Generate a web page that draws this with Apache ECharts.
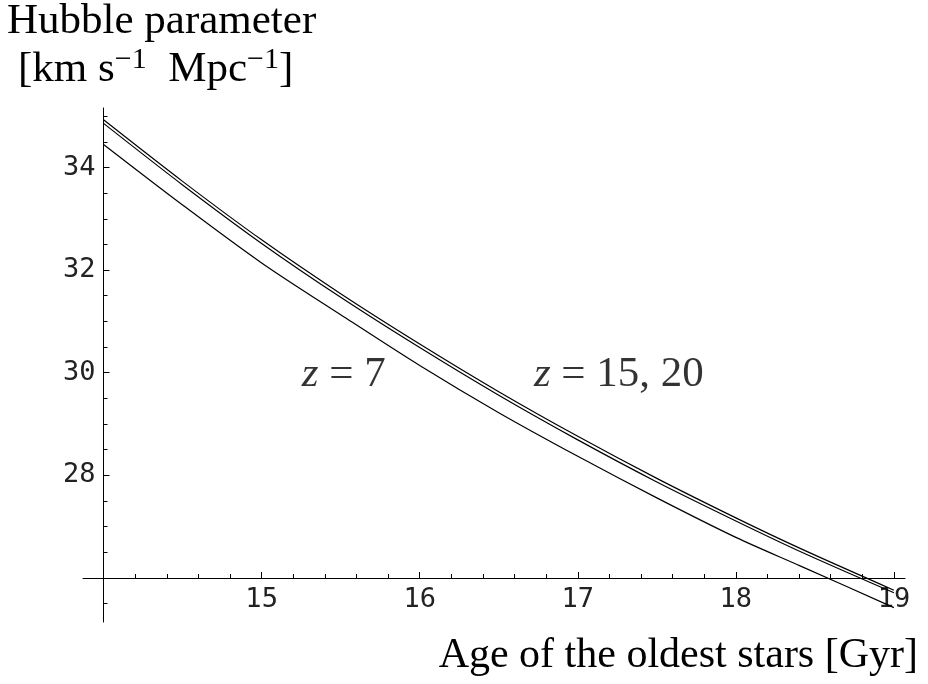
<!DOCTYPE html>
<html>
<head>
<meta charset="utf-8">
<script src="https://cdn.jsdelivr.net/npm/echarts@6/dist/echarts.min.js"></script>
<style>
  html, body { margin: 0; background: #fff; }
  #chart { width: 928px; height: 684px; }
</style>
</head>
<body>
<div id="chart"></div>
<script>
  const ages = [14, 14.5, 15, 15.5, 16, 16.5, 17, 17.5, 18, 18.41, 19];
  // Hubble parameter (km/s/Mpc) for each formation redshift
  const hubbleZ20 = [34.93, 33.73, 32.59, 31.54, 30.56, 29.63, 28.76, 27.94, 27.17, 26.57, 25.76];
  const hubbleZ15 = [34.86, 33.66, 32.52, 31.47, 30.49, 29.56, 28.69, 27.87, 27.11, 26.51, 25.71];
  const hubbleZ7 = [34.45, 33.27, 32.14, 31.13, 30.14, 29.22, 28.37, 27.56, 26.79, 26.23, 25.42];

  // tick marks
  const xMajorTicks = [15, 16, 17, 18, 19];
  const xMinorTicks = [14.2, 14.4, 14.6, 14.8, 15.2, 15.4, 15.6, 15.8, 16.2, 16.4, 16.6, 16.8,
    17.2, 17.4, 17.6, 17.8, 18.2, 18.4, 18.6, 18.8];
  const yMajorTicks = [28, 30, 32, 34];
  const yMinorTicks = [25.5, 26.5, 27, 27.5, 28.5, 29, 29.5, 30.5, 31, 31.5, 32.5, 33, 33.5, 34.5, 35];

  // curve annotations, in data coordinates
  const notes = [
    { name: '7', value: [15.52, 29.96] },
    { name: '15, 20', value: [17.26, 29.96] }
  ];

  const serif = 'Liberation Serif';
  const mono = 'DejaVu Sans Mono';

  function curve(ys) {
    return ages.map((a, i) => [a, ys[i]]);
  }

  function lineSeries(name, ys) {
    return {
      name: name,
      type: 'line',
      data: curve(ys),
      smooth: 0.3,
      symbol: 'none',
      lineStyle: { color: '#000', width: 1.2 }
    };
  }

  const xBase = {
    type: 'value',
    gridIndex: 0,
    position: 'bottom',
    min: 13.87,
    max: 19.07,
    offset: -44,
    splitLine: { show: false }
  };
  const yBase = {
    type: 'value',
    gridIndex: 0,
    position: 'left',
    min: 25.14,
    max: 35.16,
    offset: -20.5,
    splitLine: { show: false }
  };

  let myChart = echarts.init(document.getElementById('chart'));
  myChart.setOption({
    animation: false,
    backgroundColor: '#fff',
    grid: { left: 83, right: 23, top: 108, bottom: 62, outerBoundsMode: 'none' },
    xAxis: [
      Object.assign({}, xBase, {
        axisLine: { show: true, onZero: false, lineStyle: { color: '#000', width: 1 } },
        axisTick: { show: true, inside: true, length: 6, customValues: xMajorTicks, lineStyle: { color: '#000' } },
        axisLabel: { customValues: xMajorTicks, margin: 8, fontFamily: mono, fontSize: 27, color: '#222' }
      }),
      Object.assign({}, xBase, {
        axisLine: { show: false, onZero: false },
        axisTick: { show: true, inside: true, length: 4, customValues: xMinorTicks, lineStyle: { color: '#000' } },
        axisLabel: { show: false }
      })
    ],
    yAxis: [
      Object.assign({}, yBase, {
        axisLine: { show: true, onZero: false, lineStyle: { color: '#000', width: 1 } },
        axisTick: { show: true, inside: true, length: 6, customValues: yMajorTicks, lineStyle: { color: '#000' } },
        axisLabel: { customValues: yMajorTicks, margin: 8, fontFamily: mono, fontSize: 27, color: '#222' }
      }),
      Object.assign({}, yBase, {
        axisLine: { show: false, onZero: false },
        axisTick: { show: true, inside: true, length: 4, customValues: yMinorTicks, lineStyle: { color: '#000' } },
        axisLabel: { show: false }
      })
    ],
    series: [
      lineSeries('z = 20', hubbleZ20),
      lineSeries('z = 15', hubbleZ15),
      lineSeries('z = 7', hubbleZ7),
      {
        type: 'scatter',
        data: notes,
        symbolSize: 0,
        silent: true,
        label: {
          show: true,
          position: 'inside',
          formatter: p => '{i|z} = ' + p.name,
          fontFamily: serif,
          fontSize: 43,
          color: '#000',
          rich: {
            i: { fontFamily: serif, fontStyle: 'italic', fontSize: 43, color: '#000' }
          }
        }
      }
    ],
    graphic: [
      {
        type: 'text',
        left: 7,
        top: 0,
        style: {
          text: 'Hubble parameter',
          fontFamily: serif,
          fontSize: 43,
          fill: '#000'
        }
      },
      {
        type: 'text',
        left: 18,
        top: 45,
        style: {
          text: '[km s{sup|\u22121}\u2002Mpc{sup|\u22121}]',
          fontFamily: serif,
          fontSize: 43,
          lineHeight: 50,
          fill: '#000',
          rich: {
            sup: { fontFamily: serif, fontSize: 30, lineHeight: 34, verticalAlign: 'top', fill: '#000' }
          }
        }
      },
      {
        type: 'text',
        right: 10,
        top: 635,
        style: {
          text: 'Age of the oldest stars [Gyr]',
          fontFamily: serif,
          fontSize: 42,
          fill: '#000'
        }
      }
    ]
  });

  window.addEventListener('resize', () => {
    myChart.resize();
  });
</script>
</body>
</html>
